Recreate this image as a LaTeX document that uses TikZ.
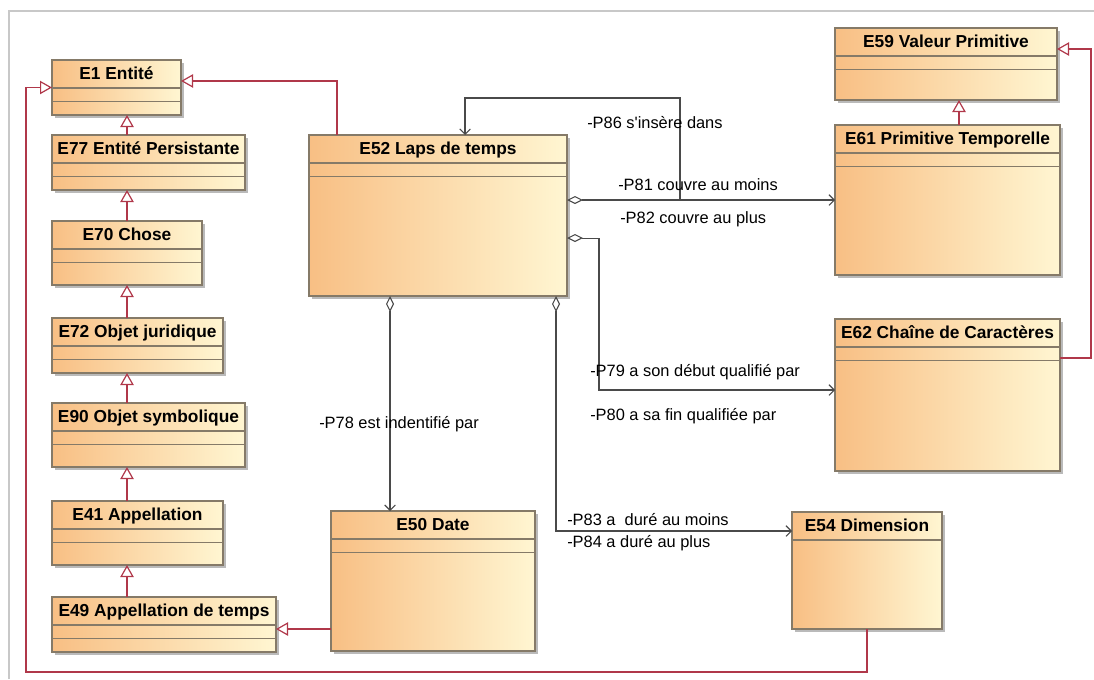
\documentclass[tikz,border=0pt]{standalone}
\usepackage{fontspec}
\setmainfont{Liberation Sans}
\usetikzlibrary{arrows.meta,shadows}

\definecolor{orangeuml}{HTML}{F8BF84}
\definecolor{cremeuml}{HTML}{FFF6D2}
\definecolor{borduml}{HTML}{857A68}
\definecolor{rougegen}{HTML}{B0384A}
\definecolor{grisassoc}{HTML}{4A4A4A}
\definecolor{griscadre}{HTML}{C8C8C8}

\tikzset{
  classe/.style={draw=borduml, line width=0.8pt, anchor=north west, inner sep=0pt, outer sep=0pt,
    left color=orangeuml, right color=cremeuml,
    drop shadow={shadow xshift=2.5pt, shadow yshift=-2.5pt, fill=black!45, opacity=0.6}},
  titre/.style={anchor=base, inner sep=0pt, font=\fontsize{13}{15}\selectfont\bfseries},
  compart/.style={draw=borduml, line width=0.8pt},
  heritage/.style={draw=rougegen, line width=0.9pt, -{Triangle[open, fill=white, length=9pt, width=10pt]}},
  assoc/.style={draw=grisassoc, line width=0.8pt, -{Straight Barb[length=4pt, width=8pt]}},
  agreg/.style={assoc, {Diamond[open, fill=white, length=12pt, width=6pt]}-{Straight Barb[length=4pt, width=8pt]}},
  role/.style={anchor=west, inner sep=0pt, font=\fontsize{12.3}{14}\selectfont},
}

% [compartiments]{nom}{x}{y}{largeur}{hauteur}{titre}
\newcommand{\Classe}[7][2]{%
  \node[classe, minimum width=#5*0.75pt, minimum height=#6*0.75pt] (#2) at (#3,#4) {};
  \node[titre] (#2-nom) at ([yshift=-14.25pt]#2.north) {#7};
  \foreach \k in {1,...,#1}
    \draw[compart] ([yshift={-21pt-(\k-1)*10pt}]#2.north west) -- ([yshift={-21pt-(\k-1)*10pt}]#2.north east);
}

\begin{document}
\begin{tikzpicture}[x=0.75pt, y=-0.75pt]
  \useasboundingbox (0,0) rectangle (1094,679);
  \draw[griscadre, line width=0.8pt] (9,679) -- (9,11) -- (1094,11);

  % classes
  \Classe{E1}{52}{60}{129}{55}{E1 Entité}
  \Classe{E77}{52}{135}{193}{55}{E77 Entité Persistante}
  \Classe{E70}{52}{221}{150}{64}{E70 Chose}
  \Classe{E72}{52}{318}{171}{55}{E72 Objet juridique}
  \Classe{E90}{52}{403}{193}{64}{E90 Objet symbolique}
  \Classe{E41}{52}{501}{171}{64}{E41 Appellation}
  \Classe{E49}{52}{597}{224}{55}{E49 Appellation de temps}
  \Classe{E52}{309}{135}{258}{161}{E52 Laps de temps}
  \Classe{E50}{331}{511}{204}{140}{E50 Date}
  \Classe[1]{E54}{792}{512}{150}{117}{E54 Dimension}
  \Classe{E59}{835}{28}{222}{72}{E59 Valeur Primitive}
  \Classe{E61}{835}{125}{225}{150}{E61 Primitive Temporelle}
  \Classe{E62}{835}{319}{225}{152}{E62 Chaîne de Caractères}

  % généralisations
  \coordinate (gx) at (127,0);
  \coordinate (gy) at (959,0);
  \draw[heritage] (gx |- E77.north) -- (gx |- E1.south);
  \draw[heritage] (gx |- E70.north) -- (gx |- E77.south);
  \draw[heritage] (gx |- E72.north) -- (gx |- E70.south);
  \draw[heritage] (gx |- E90.north) -- (gx |- E72.south);
  \draw[heritage] (gx |- E41.north) -- (gx |- E90.south);
  \draw[heritage] (gx |- E49.north) -- (gx |- E41.south);
  \draw[heritage] (gy |- E61.north) -- (gy |- E59.south);
  \draw[heritage] ([xshift=21pt]E52.north west) |- ([yshift=4.9pt]E1.east);
  \coordinate (h50) at ([yshift=-36pt]E50.west);
  \draw[heritage] (h50) -- (h50 -| E49.east);
  \draw[heritage] (E54.south) |- (26,672) |- (E1.west);
  \draw[heritage] ([yshift=-29.25pt]E62.north east) -- ++(31,0) |- ([yshift=11.25pt]E59.east);

  % associations
  \draw[agreg] (E52.east |- E61.west) -- (E61.west);
  \coordinate (c86) at (680,98);
  \draw[assoc] (c86 |- E61.west) -- (c86) -| ([xshift=117pt]E52.north west);
  \draw[agreg] ([yshift=-16.9pt]E52.east) -- ++(32,0) |- ([yshift=3.75pt]E62.west);
  \coordinate (a78) at ([xshift=60.75pt]E52.south west);
  \draw[agreg] (a78) -- (a78 |- E50.north);
  \coordinate (a83) at ([xshift=185.25pt]E52.south west);
  \draw[agreg] (a83) |- ([yshift=-14.25pt]E54.north west);

  % rôles
  \node[role] (l86) at (587,123) {-P86 s\textquotesingle insère dans};
  \node[role] (l81) at (618,185) {-P81 couvre au moins};
  \node[role] (l82) at (620,219) {-P82 couvre au plus};
  \node[role] (l79) at (590,372) {-P79 a son début qualifié par};
  \node[role] (l80) at (590,416) {-P80 a sa fin qualifiée par};
  \node[role] (l78) at (319,424) {-P78 est indentifié par};
  \node[role] (l83) at (567,520) {-P83 a\ \ duré au moins};
  \node[role] (l84) at (567,543) {-P84 a duré au plus};
\end{tikzpicture}
\end{document}
